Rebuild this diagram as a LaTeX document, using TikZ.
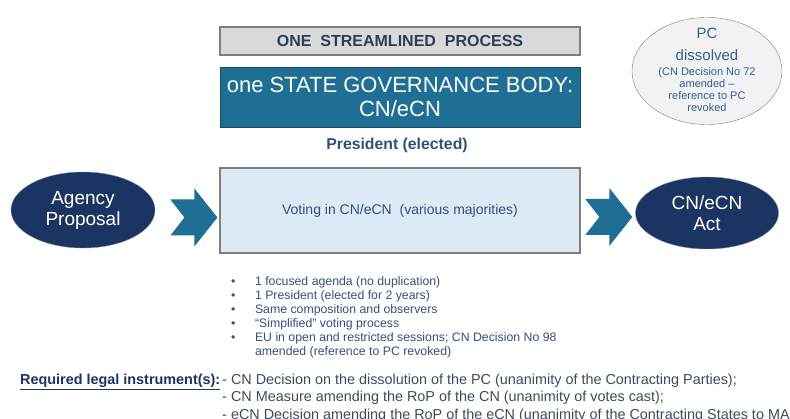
\documentclass[tikz,border=0pt]{standalone}
\usepackage{fontspec}
\setmainfont{Liberation Sans}
\usetikzlibrary{shapes.geometric,calc}
\definecolor{navy}{HTML}{1B3461}
\definecolor{govteal}{HTML}{1F6E93}
\definecolor{framegray}{HTML}{7F7F7F}
\definecolor{panelgray}{HTML}{D9D9D9}
\definecolor{votefill}{HTML}{DCEAF6}
\definecolor{slate}{HTML}{2D3E5A}
\definecolor{inkblue}{HTML}{34507A}
\definecolor{pcblue}{HTML}{2F5F95}
\definecolor{bodytext}{HTML}{3C4A5C}

\begin{document}
\begin{tikzpicture}[x=1pt,y=-1pt,
    oval/.style={ellipse,fill=navy,draw=navy!60!white,text=white,align=center,
        inner sep=0pt,font=\fontsize{19}{21}\selectfont},
    blockarrow/.pic={\fill[govteal] (-47,-18) -- (-23,-18) -- (-23,-29) -- (0,0)
        -- (-23,29) -- (-23,18) -- (-47,18) -- (-33,0) -- cycle;}]
    % Page in pixel units: 790 x 419, y pointing down
    \useasboundingbox (0,0) rectangle (790,419);
    \clip (0,0) rectangle (790,419);
    % Header boxes
    \node[draw=framegray,line width=1.2pt,fill=panelgray,minimum width=360,
        minimum height=28,inner sep=0pt,text=slate,
        font=\fontsize{16}{18}\selectfont\bfseries] (process) at (400,41)
        {ONE\ \ STREAMLINED\ \ PROCESS};
    \node[draw=govteal!70!black,fill=govteal,minimum width=360,minimum height=60,
        inner sep=0pt,text=white,align=center,
        font=\fontsize{22}{24}\selectfont] (body) at (400,97)
        {one STATE GOVERNANCE BODY:\\CN/eCN};
    \node[text=inkblue,font=\fontsize{15.8}{18}\selectfont\bfseries] (president)
        at (397,145) {President (elected)};
    % PC ellipse
    \node[ellipse,draw=framegray,fill=gray!10,minimum width=150,minimum height=107,
        inner sep=0pt] (pc) at (707,71) {};
    \node[anchor=north,inner sep=0pt,text=pcblue,
        font=\fontsize{11}{12}\selectfont] (pctext) at (707,27.7)
        {\begin{tabular}{@{}c@{}}
        {\fontsize{15}{18}\selectfont PC}\\[7.4pt]
        {\fontsize{15}{18}\selectfont dissolved}\\[3pt]
        (CN Decision No 72\\
        amended --\\
        reference to PC\\
        revoked
        \end{tabular}};
    % Main flow
    \node[oval,minimum width=144,minimum height=76] (agency) at (83,210)
        {Agency\\Proposal};
    \node[draw=framegray,line width=1.2pt,fill=votefill,minimum width=360,
        minimum height=85,inner sep=0pt,text=inkblue,
        font=\fontsize{14}{16}\selectfont] (voting) at (400,210.5)
        {Voting in CN/eCN\ \ (various majorities)};
    \node[oval,minimum width=143,minimum height=72] (act) at (707,213)
        {CN/eCN\\Act};
    \pic at ($(voting.west)+(-2,7)$) {blockarrow};
    \pic at ($(act.west)+(-3,4)$) {blockarrow};
    % Features of the single body
    \node[anchor=north west,inner sep=0pt,text=inkblue,
        font=\fontsize{12.3}{14}\selectfont] (features) at (231,276)
        {\begin{tabular}{@{}l@{\hspace{19.5pt}}l@{}}
        \textbullet & 1 focused agenda (no duplication)\\
        \textbullet & 1 President (elected for 2 years)\\
        \textbullet & Same composition and observers\\
        \textbullet & ``Simplified'' voting process\\
        \textbullet & EU in open and restricted sessions; CN Decision No 98\\
                    & amended (reference to PC revoked)
        \end{tabular}};
    % Legal instruments
    \node[anchor=north west,inner sep=0pt,text=bodytext,
        font=\fontsize{14.4}{17.5}\selectfont] (legal) at (20,372)
        {\begin{tabular}{@{}l@{\hspace{2pt}}l@{}}
        \textcolor{navy}{\bfseries\underline{Required legal instrument(s):}}
            & - CN Decision on the dissolution of the PC (unanimity of the Contracting Parties);\\
        & - CN Measure amending the RoP of the CN (unanimity of votes cast);\\
        & - eCN Decision amending the RoP of the eCN (unanimity of the Contracting States to MA
        \end{tabular}};
\end{tikzpicture}
\end{document}
